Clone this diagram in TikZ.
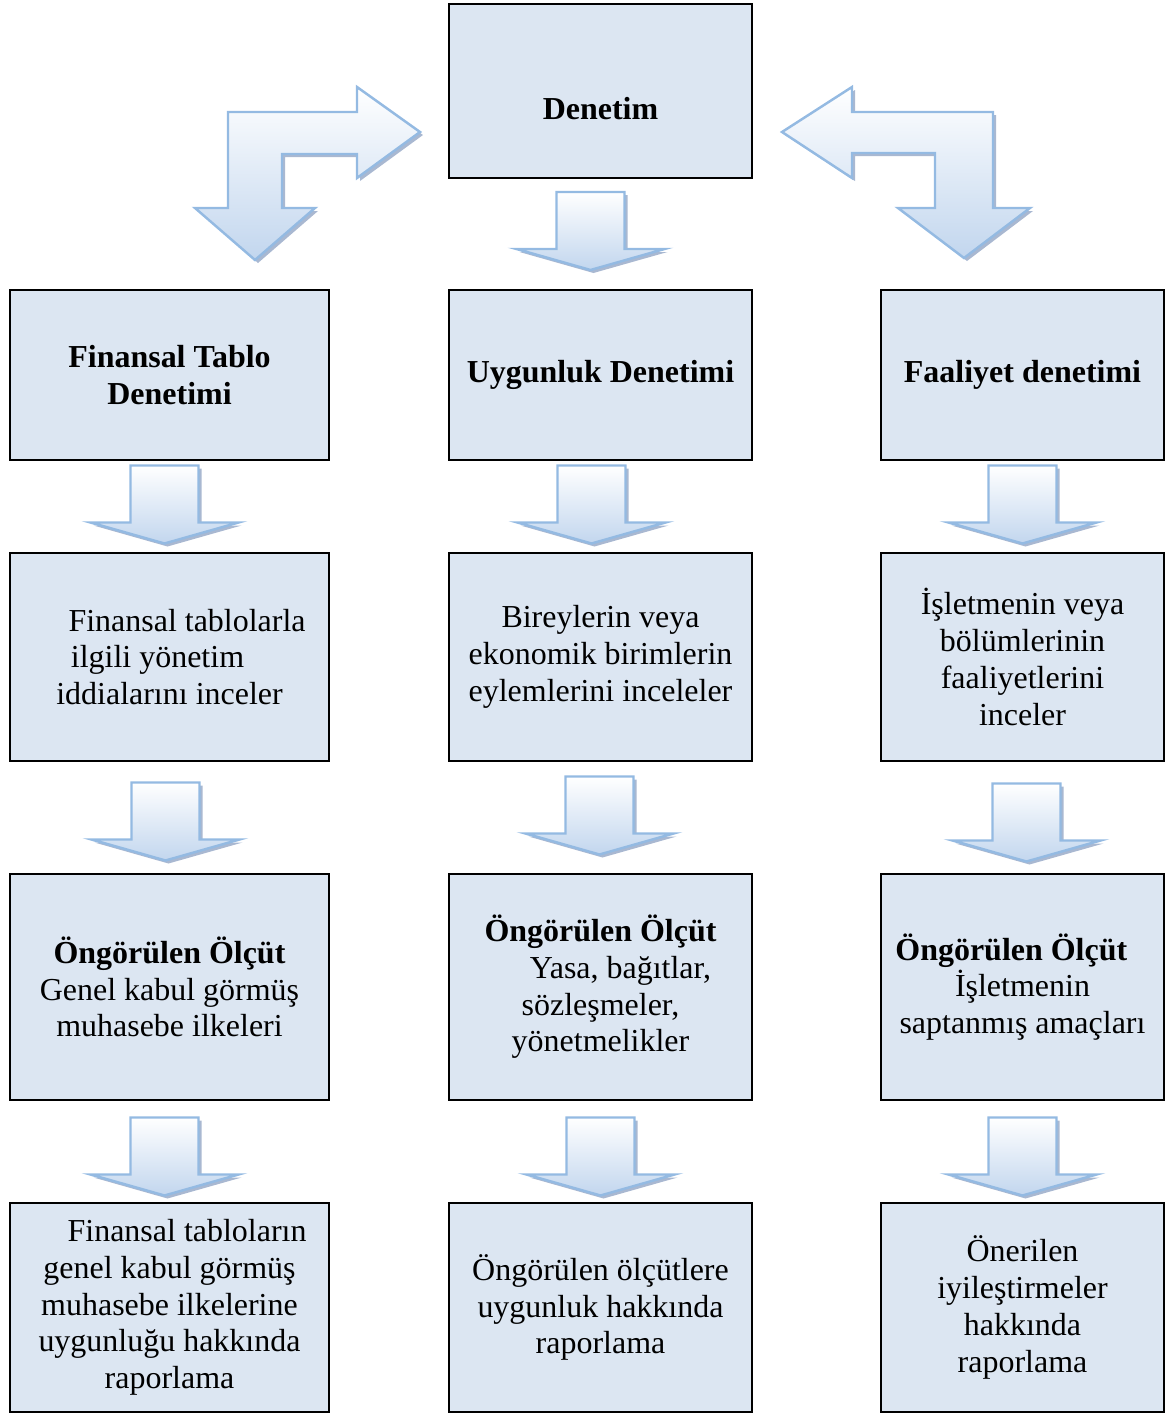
\documentclass[tikz,border=0pt]{standalone}
\usepackage{fontspec}
\setmainfont{Liberation Serif}
\usetikzlibrary{calc}
\definecolor{boxfill}{HTML}{DCE6F2}
\definecolor{arrline}{RGB}{148,186,226}
\definecolor{arrlow}{RGB}{194,214,238}
\definecolor{arrshade}{RGB}{140,160,194}
\tikzset{
  box/.style={draw=black, line width=1.1pt, fill=boxfill, align=center, inner sep=0pt,
    font=\fontsize{18.2}{20.9}\selectfont},
  headtext/.style={font=\fontsize{18.2}{20.9}\selectfont\bfseries},
  leftcol/.style={minimum width=6.38cm},
  midcol/.style={minimum width=6.06cm},
  rightcol/.style={minimum width=5.66cm},
  rowtop/.style={minimum height=3.48cm},
  rowa/.style={minimum height=3.40cm},
  rowb/.style={minimum height=4.16cm},
  rowc/.style={minimum height=4.52cm},
  rowd/.style={minimum height=4.18cm},
  arrbody/.style={draw=arrline, line width=1.4pt, line join=miter, top color=white, bottom color=arrlow},
  arrshadow/.style={fill=arrshade, opacity=0.75},
  downarr/.pic={
    \fill[arrshadow, shift={(3,3)}] (-34,-39) -- (34,-39) -- (34,18) -- (74,18) -- (0,39) -- (-74,18) -- (-34,18) -- cycle;
    \draw[arrbody] (-34,-39) -- (34,-39) -- (34,18) -- (74,18) -- (0,39) -- (-74,18) -- (-34,18) -- cycle;
  },
}

\begin{document}
\begin{tikzpicture}[x=0.02cm, y=-0.02cm]
\useasboundingbox (0,0) rectangle (1168,1414);
% bent arrows left and right of the top box
\fill[arrshadow, shift={(3,3)}] (228,112) -- (357,112) -- (357,87) -- (420,132) -- (357,178) -- (357,154) -- (282,154) -- (282,208) -- (315,208) -- (255,260) -- (195,208) -- (228,208) -- cycle;
\draw[arrbody] (228,112) -- (357,112) -- (357,87) -- (420,132) -- (357,178) -- (357,154) -- (282,154) -- (282,208) -- (315,208) -- (255,260) -- (195,208) -- (228,208) -- cycle;
\fill[arrshadow, shift={(3,3)}] (993,112) -- (852,112) -- (852,87) -- (782,132) -- (852,178) -- (852,153) -- (935,153) -- (935,208) -- (898,208) -- (964,258) -- (1030,208) -- (993,208) -- cycle;
\draw[arrbody] (993,112) -- (852,112) -- (852,87) -- (782,132) -- (852,178) -- (852,153) -- (935,153) -- (935,208) -- (898,208) -- (964,258) -- (1030,208) -- (993,208) -- cycle;
% boxes
\node[box, midcol, rowtop] (denetim) at (600.5,91) {};
\node[headtext] (denetimtext) at ($(denetim.center)+(0,18)$) {Denetim};
\node[box, leftcol, rowa, font=\fontsize{18.2}{20.9}\selectfont\bfseries] (fin1) at (169.5,375) {Finansal Tablo\\Denetimi};
\node[box, midcol, rowa, font=\fontsize{18.2}{20.9}\selectfont\bfseries] (uyg1) at (600.5,375) {Uygunluk Denetimi};
\node[box, rightcol, rowa, font=\fontsize{18.2}{20.9}\selectfont\bfseries] (faal1) at (1022.5,375) {Faaliyet denetimi};
\node[box, leftcol, rowb] (fin2) at (169.5,657) {\hspace*{1.1em}Finansal tablolarla\\ilgili yönetim\hspace{0.75em}\mbox{}\\iddialarını inceler};
\node[box, midcol, rowb] (uyg2) at (600.5,657) {Bireylerin veya\\ekonomik birimlerin\\eylemlerini inceleler};
\node[box, rightcol, rowb] (faal2) at (1022.5,657) {İşletmenin veya\\bölümlerinin\\faaliyetlerini\\inceler};
\node[box, leftcol, rowc] (fin3) at (169.5,987) {\textbf{Öngörülen Ölçüt}\\Genel kabul görmüş\\muhasebe ilkeleri};
\node[box, midcol, rowc] (uyg3) at (600.5,987) {\textbf{Öngörülen Ölçüt}\\\hspace*{1.25em}Yasa, bağıtlar,\\sözleşmeler,\\yönetmelikler};
\node[box, rightcol, rowc] (faal3) at (1022.5,987) {\textbf{Öngörülen Ölçüt}\hspace{0.7em}\mbox{}\\İşletmenin\\saptanmış amaçları};
\node[box, leftcol, rowd] (fin4) at (169.5,1307.5) {\hspace*{1.1em}Finansal tabloların\\genel kabul görmüş\\muhasebe ilkelerine\\uygunluğu hakkında\\raporlama};
\node[box, midcol, rowd] (uyg4) at (600.5,1307.5) {Öngörülen ölçütlere\\uygunluk hakkında\\raporlama};
\node[box, rightcol, rowd] (faal4) at (1022.5,1307.5) {Önerilen\\iyileştirmeler\\hakkında\\raporlama};
% down arrows between the boxes
\pic at ($(denetim.south)!0.5!(uyg1.north)+(-10,-3)$) {downarr};
\pic at ($(fin1.south)!0.5!(fin2.north)+(-5,-2)$) {downarr};
\pic at ($(uyg1.south)!0.5!(uyg2.north)+(-9,-2)$) {downarr};
\pic at ($(faal1.south)!0.5!(faal2.north)+(0,-2)$) {downarr};
\pic at ($(fin2.south)!0.5!(fin3.north)+(-4,4)$) {downarr};
\pic at ($(uyg2.south)!0.5!(uyg3.north)+(-1,-2)$) {downarr};
\pic at ($(faal2.south)!0.5!(faal3.north)+(4,5)$) {downarr};
\pic at ($(fin3.south)!0.5!(fin4.north)+(-5,5)$) {downarr};
\pic at ($(uyg3.south)!0.5!(uyg4.north)+(0,5)$) {downarr};
\pic at ($(faal3.south)!0.5!(faal4.north)+(0,5)$) {downarr};
\end{tikzpicture}
\end{document}
